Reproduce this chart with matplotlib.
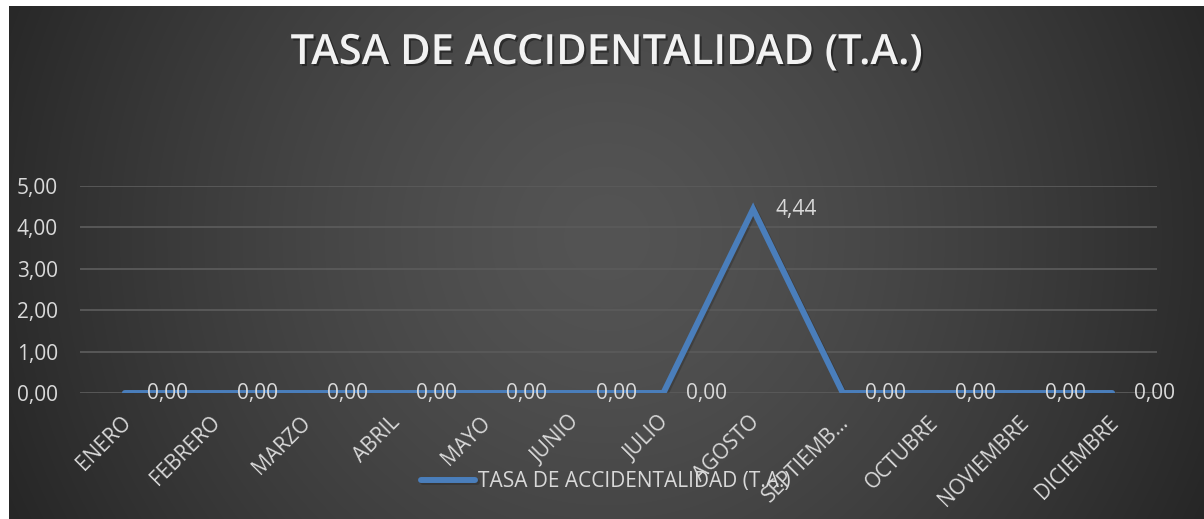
import numpy as np
import matplotlib
matplotlib.use("Agg")
import matplotlib.pyplot as plt
from matplotlib.transforms import ScaledTranslation
import matplotlib.patheffects as pe

# ---- data ----
months = ["ENERO", "FEBRERO", "MARZO", "ABRIL", "MAYO", "JUNIO", "JULIO",
          "AGOSTO", "SEPTIEMB…", "OCTUBRE", "NOVIEMBRE", "DICIEMBRE"]
tasa = [0.00, 0.00, 0.00, 0.00, 0.00, 0.00, 0.00, 4.44, 0.00, 0.00, 0.00, 0.00]
yticks = [0, 1, 2, 3, 4, 5]
title = "TASA DE ACCIDENTALIDAD (T.A.)"
series_name = "TASA DE ACCIDENTALIDAD (T.A.)"

W, H = 1204, 519
fig = plt.figure(figsize=(W / 100, H / 100), dpi=100, facecolor="white")
plt.rcParams["font.family"] = ["Open Sans", "DejaVu Sans"]

# ---- dark radial-gradient background ----
bx0, by0 = 9, 6
bg = fig.add_axes([bx0 / W, 0, 1 - bx0 / W, 1 - by0 / H], zorder=-10)
bw, bh = W - bx0, H - by0
xx, yy = np.meshgrid(np.arange(bw), np.arange(bh))
cx, cy = bw * 0.5, bh * 0.45
d = np.sqrt((xx - cx) ** 2 + (yy - cy) ** 2) / np.sqrt(cx ** 2 + (bh - cy) ** 2)
val = (84 - 46 * np.clip(d, 0, 1) ** 1.4) / 255.0
img = np.dstack([val, val, val])
bg.imshow(img, aspect="auto", extent=[0, 1, 0, 1], origin="upper")
bg.set_axis_off()

# ---- main axes ----
ax = fig.add_axes([80 / W, 1 - 393 / H, (1157 - 80) / W, (393 - 186) / H])
ax.set_facecolor("none")
x = np.arange(len(months))
line_color = "#4a7ebb"
ax.plot(x, tasa, color=line_color, lw=4.3, solid_capstyle="round",
        solid_joinstyle="miter", zorder=3,
        path_effects=[pe.SimpleLineShadow(offset=(1.2, -1.2), alpha=0.18,
                                          shadow_color="black"), pe.Normal()])
ax.set_xlim(-0.5, len(months) - 0.5)
ax.set_ylim(0, 5)
ax.set_yticks(yticks)
ax.set_yticklabels([f"{v:.2f}".replace(".", ",") for v in yticks])
ax.grid(axis="y", color="#5a5a5a", lw=1.3)
ax.set_axisbelow(True)
for s in ax.spines.values():
    s.set_visible(False)
ax.tick_params(axis="y", length=0, pad=16, labelsize=15, labelcolor="#d9d9d9")
ax.tick_params(axis="x", length=0, pad=19, labelsize=15, labelcolor="#d9d9d9")
ax.set_xticks(x)
ax.set_xticklabels(months, rotation=45, ha="right", va="center",
                   rotation_mode="anchor")
for lbl in ax.get_xticklabels():
    lbl.set_transform(lbl.get_transform() + ScaledTranslation(3 / 100, 0, fig.dpi_scale_trans))

# data labels
for xi, v in zip(x, tasa):
    ax.annotate(f"{v:.2f}".replace(".", ","), (xi, v), xytext=(16, 0),
                textcoords="offset points", ha="left", va="center",
                fontsize=15, color="#d9d9d9", zorder=4)

# title
fig.text((bx0 + W) / 2 / W, 1 - 53 / H, title, ha="center", va="center",
         fontsize=30, fontweight="semibold", color="#f2f2f2",
         path_effects=[pe.withSimplePatchShadow(offset=(1.5, -1.5), alpha=0.4,
                                                shadow_rgbFace="black")])

# legend
leg = fig.legend(ax.get_lines(), [series_name], loc="center",
                 bbox_to_anchor=(606 / W, 1 - 482 / H), frameon=False,
                 fontsize=15, labelcolor="#d9d9d9", handlelength=2.6,
                 handletextpad=0.15)

fig.savefig("out.png", dpi=100, facecolor="white")
